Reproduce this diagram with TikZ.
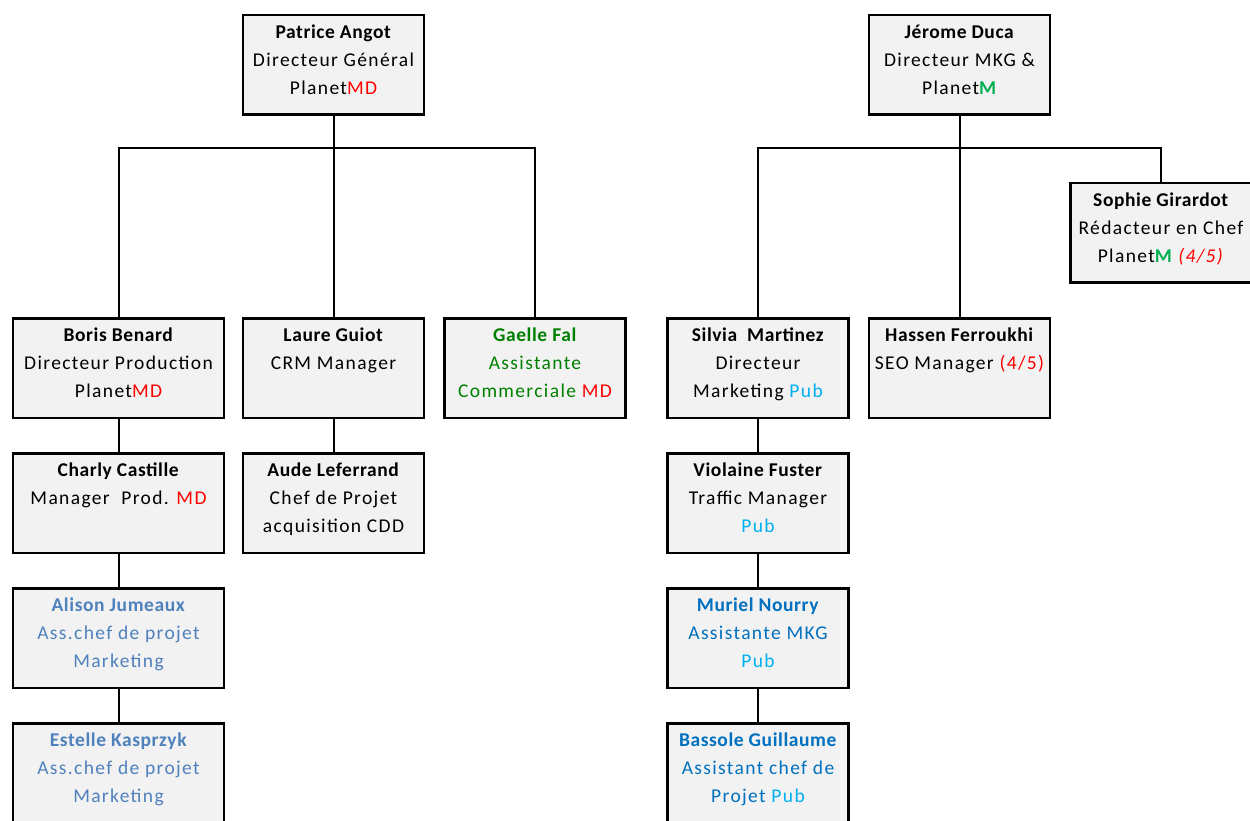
\documentclass[tikz,border=0pt]{standalone}
\usepackage{fontspec}
\setmainfont{Carlito}[LetterSpace=7, BoldFeatures={LetterSpace=3}]
\usetikzlibrary{positioning}
\definecolor{boxgray}{RGB}{242,242,242}
\definecolor{mdred}{RGB}{255,0,0}
\definecolor{mgreen}{RGB}{0,176,80}
\definecolor{pubblue}{RGB}{0,176,240}
\definecolor{gaellegreen}{RGB}{0,128,0}
\definecolor{assblue}{RGB}{79,129,189}
\definecolor{murblue}{RGB}{0,112,192}
\newcommand{\md}{\textcolor{mdred}{MD}}
\newcommand{\planetm}{\textcolor{mgreen}{\textbf{M}}}
\newcommand{\pub}{\textcolor{pubblue}{Pub}}
\newcommand{\card}[1]{\begin{tabular}[t]{@{}c@{}}#1\end{tabular}}

\begin{document}
\begin{tikzpicture}[x=1pt, y=-1pt,
  person/.style={draw, line width=2.5pt, fill=boxgray, minimum width=181pt,
                 minimum height=99.5pt, inner sep=0pt,
                 font=\fontsize{19.5}{28}\selectfont, text height=17pt, text depth=70pt},
  wide/.style={person, minimum width=211pt},
  link/.style={line width=2pt},
  node distance=33pt]
  \useasboundingbox (0,0) rectangle (1250,820);
  \clip (0,0) rectangle (1250,820);
  % top of the two trees
  \node[person] (angot) at (333.5,64.5) {\card{\textbf{Patrice Angot}\\Directeur Général\\Planet\md}};
  \node[person] (duca) at (959.5,64.5) {\card{\textbf{Jérome Duca}\\Directeur MKG \&\\Planet\planetm}};
  % left tree
  \node[wide] (benard) at (118.5,368) {\card{\textbf{Boris Benard}\\Directeur Production\\Planet\md}};
  \node[person] (guiot) at (333.5,368) {\card{\textbf{Laure Guiot}\\CRM Manager}};
  \node[person, text=gaellegreen] (fal) at (535,368) {\card{\textbf{Gaelle Fal}\\Assistante\\Commerciale \md}};
  \node[wide, below=of benard] (castille) {\card{\textbf{Charly Castille}\\Manager~~Prod. \md}};
  \node[person, below=of guiot] (leferrand) {\card{\textbf{Aude Leferrand}\\Chef de Projet\\acquisition CDD}};
  \node[wide, text=assblue, below=of castille] (jumeaux) {\card{\textbf{Alison Jumeaux}\\Ass.chef de projet\\Marketing}};
  \node[wide, text=assblue, below=of jumeaux] (kasprzyk) {\card{\textbf{Estelle Kasprzyk}\\Ass.chef de projet\\Marketing}};
  % right tree
  \node[person] (martinez) at (758,368) {\card{\textbf{Silvia~~Martinez}\\Directeur\\Marketing \pub}};
  \node[person] (ferroukhi) at (959.5,368) {\card{\textbf{Hassen Ferroukhi}\\SEO Manager \textcolor{mdred}{(4/5)}}};
  \node[person] (girardot) at (1161,232.5) {\card{\textbf{Sophie Girardot}\\Rédacteur en Chef\\Planet\planetm{} \textcolor{mdred}{\textit{(4/5)}}}};
  \node[person, below=of martinez] (fuster) {\card{\textbf{Violaine Fuster}\\Traffic Manager\\\pub}};
  \node[person, text=murblue, below=of fuster] (nourry) {\card{\textbf{Muriel Nourry}\\Assistante MKG\\\pub}};
  \node[person, text=murblue, below=of nourry] (guillaume) {\card{\textbf{Bassole Guillaume}\\Assistant chef de\\Projet \pub}};
  % connectors
  \coordinate (lbus) at (333.5,148);
  \coordinate (rbus) at (959.5,148);
  \draw[link] (angot) -- (guiot);
  \draw[link] (benard.north) |- (lbus) -| (fal.north);
  \draw[link] (duca) -- (ferroukhi);
  \draw[link] (martinez.north) |- (rbus) -| (girardot.north);
  \draw[link] (benard) -- (castille) -- (jumeaux) -- (kasprzyk);
  \draw[link] (guiot) -- (leferrand);
  \draw[link] (martinez) -- (fuster) -- (nourry) -- (guillaume);
\end{tikzpicture}
\end{document}
